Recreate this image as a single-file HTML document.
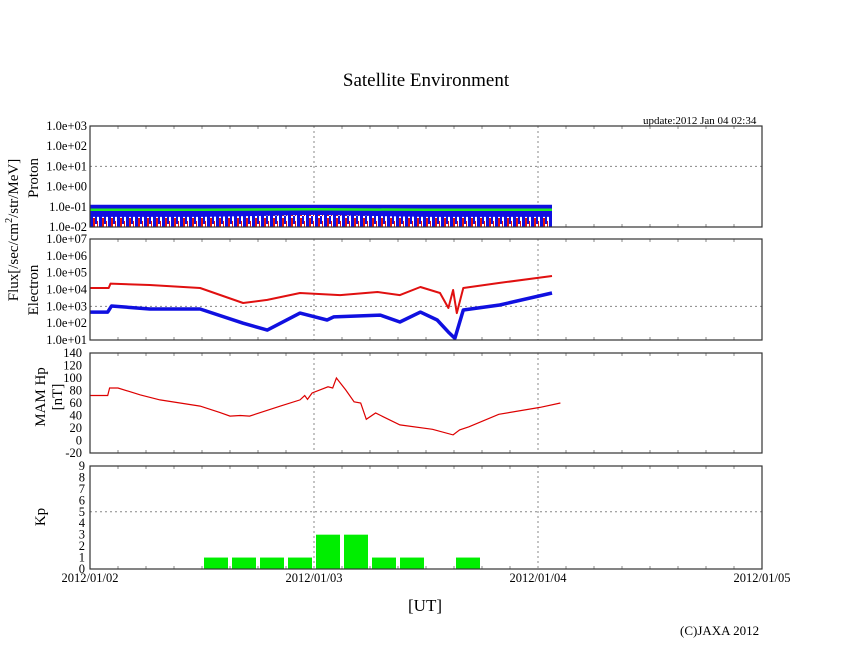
<!DOCTYPE html>
<html><head><meta charset="utf-8"><style>
body{margin:0;background:#fff}
svg{display:block;font-family:"Liberation Serif",serif}
.t{font-size:12.5px;fill:#000}
</style></head><body>
<svg id="c" width="846" height="655">
<text x="426" y="86" text-anchor="middle" font-size="19">Satellite Environment</text>
<text x="643" y="124" font-size="11">update:2012 Jan 04 02:34</text>
<text transform="translate(18,230) rotate(-90)" text-anchor="middle" font-size="15">Flux[/sec/cm<tspan font-size="10" dy="-6">2</tspan><tspan dy="6">/str/MeV]</tspan></text>
<text transform="translate(38,178) rotate(-90)" text-anchor="middle" font-size="15">Proton</text>
<text transform="translate(38,290) rotate(-90)" text-anchor="middle" font-size="15">Electron</text>
<text transform="translate(45,397) rotate(-90)" text-anchor="middle" font-size="15">MAM Hp</text>
<text transform="translate(62,397) rotate(-90)" text-anchor="middle" font-size="15">[nT]</text>
<text transform="translate(45,517) rotate(-90)" text-anchor="middle" font-size="15">Kp</text>
<text x="425" y="611" text-anchor="middle" font-size="17">[UT]</text>
<text x="680" y="635" font-size="13">(C)JAXA 2012</text>
<g id="g"></g>
</svg>
<script>
const xTickLabels=["2012/01/02","2012/01/03","2012/01/04","2012/01/05"];
const protonTicks=["1.0e-02","1.0e-01","1.0e+00","1.0e+01","1.0e+02","1.0e+03"];
const electronTicks=["1.0e+01","1.0e+02","1.0e+03","1.0e+04","1.0e+05","1.0e+06","1.0e+07"];
const hpTicks=[-20,0,20,40,60,80,100,120,140];
const kpTicks=[0,1,2,3,4,5,6,7,8,9];
// electron flux (hours since 2012/01/02 00UT, log10 flux)
const eRedHours=[0,2,2.2,6.4,11.8,16.4,19,22.5,26.8,30.8,33.2,35.4,37.5,38.4,38.9,39.3,40,43.9,49.5];
const eRedLog=[4.09,4.09,4.35,4.27,4.09,3.2,3.38,3.79,3.67,3.85,3.67,4.15,3.79,2.9,3.97,2.6,4.09,4.39,4.8];
const eBlueHours=[0,1.9,2.3,6.4,11.8,16.4,19,22.5,25.4,26.1,31.1,33.2,35.4,37.2,38.4,39.1,40,43.9,49.5];
const eBlueLog=[2.66,2.66,3.02,2.84,2.84,2.0,1.59,2.6,2.19,2.37,2.48,2.07,2.66,2.19,1.47,1.1,2.78,3.08,3.79];
// proton flux
const pHours=[0,12,24,36,49.5];
const pGreenLog=[-1.15,-1.15,-1.12,-1.15,-1.15];
const pBlueTopLog=[-0.9,-0.9,-0.9,-0.9,-0.9];
const pRedTopLog=[-1.5,-1.5,-1.4,-1.5,-1.5];
// MAM Hp
const hpHours=[0,1.9,2.1,3.0,5.4,7.5,11.8,13.9,15.0,16.1,17.1,20.4,22.5,23.0,23.3,23.8,25.5,26.0,26.4,27.4,28.3,29.0,29.6,30.6,33.2,36.7,38.9,39.6,40.6,43.8,48.2,50.4];
const hpVals=[72,72,84,84,73,65,55,45,39,40,39,55,65,72,66,76,86,84,100,81,62,60,34,44,25,18,9,17,22,42,53,60];
// Kp (3-hour bins)
const kpBins=[4,5,6,7,8,9,10,11,13];
const kpVals=[1,1,1,1,3,3,1,1,1];

const X0=90,X1=762,PXH=(X1-X0)/72;
const xs=h=>X0+h*PXH;
const P={p:[126,227,-2,3],e:[239,340,1,7],h:[353,453,-20,140],k:[466,569,0,9]};
const ys=(k,v)=>{const [t,b,lo,hi]=P[k];return b-(v-lo)/(hi-lo)*(b-t);};
const g=document.getElementById('g');const NS="http://www.w3.org/2000/svg";
function el(tag,at,parent){const e=document.createElementNS(NS,tag);for(const k in at)e.setAttribute(k,at[k]);(parent||g).appendChild(e);return e;}
function pts(hs,vs,k){return hs.map((h,i)=>xs(h).toFixed(1)+","+ys(k,vs[i]).toFixed(1)).join(" ");}

for(const k of ['p','e','h','k']){
 const [t,b]=P[k];
 for(const d of [1,2]){const l=el('line',{x1:X0+d*224,x2:X0+d*224,y1:t,y2:b,stroke:'#888','stroke-dasharray':'2,3'});
 
 }
 for(let i=1;i<24;i++){if(i%8==0)continue;const x=X0+i*28;
  el('line',{x1:x,x2:x,y1:t,y2:t+3,stroke:'#888'});el('line',{x1:x,x2:x,y1:b,y2:b-3,stroke:'#888'});}
}
[[ 'p',1],['e',3],['k',5]].forEach(([k,v])=>{const l=el('line',{x1:X0,x2:X1,y1:ys(k,v),y2:ys(k,v),stroke:'#888','stroke-dasharray':'2,3'});

});

protonTicks.forEach((s,i)=>{const e=el('text',{x:87,y:ys('p',i-2)+4,'text-anchor':'end',class:'t'});e.textContent=s;

});
electronTicks.forEach((s,i)=>{const e=el('text',{x:87,y:ys('e',i+1)+4,'text-anchor':'end',class:'t'});e.textContent=s;

});
hpTicks.forEach(v=>{const e=el('text',{x:82,y:ys('h',v)+4,'text-anchor':'end',class:'t'});e.textContent=v;

});
kpTicks.forEach(v=>{const e=el('text',{x:85,y:ys('k',v)+4,'text-anchor':'end',class:'t'});e.textContent=v;

});
xTickLabels.forEach((s,i)=>{const e=el('text',{x:X0+i*224,y:582,'text-anchor':'middle',class:'t'});e.textContent=s;

});

// proton
const defs=el('defs',{});
const pat=el('pattern',{id:'rs',width:9,height:12,patternUnits:'userSpaceOnUse'},defs);
el('rect',{x:0,y:0,width:9,height:12,fill:'#fff'},pat);
el('rect',{x:0,y:0,width:3,height:12,fill:'#1010e0'},pat);
el('rect',{x:3,y:2,width:2,height:10,fill:'#e01010'},pat);
el('rect',{x:5,y:0,width:2,height:8,fill:'#1010e0'},pat);
el('rect',{x:7,y:5,width:1,height:7,fill:'#e01010'},pat);
const bt=pHours.map((h,i)=>xs(h)+","+ys('p',pBlueTopLog[i])).join(" ");
const blue=el('polygon',{points:bt+" "+xs(49.5)+","+ys('p',-2)+" "+X0+","+ys('p',-2),fill:'#1010e0'});


const rt=pHours.map((h,i)=>xs(h)+","+ys('p',pRedTopLog[i])).join(" ");
const red=el('polygon',{points:rt+" "+xs(49.5)+","+ys('p',-2)+" "+X0+","+ys('p',-2),fill:'url(#rs)'});


const gr=el('polyline',{points:pts(pHours,pGreenLog,'p'),fill:'none',stroke:'#2e2',"stroke-width":2.5});



// electron
const er=el('polyline',{points:pts(eRedHours,eRedLog,'e'),fill:'none',stroke:'#e01010',"stroke-width":2,'stroke-linejoin':'round'});


const eb=el('polyline',{points:pts(eBlueHours,eBlueLog,'e'),fill:'none',stroke:'#1010e0',"stroke-width":3.5,'stroke-linejoin':'round'});



// Hp
const hp=el('polyline',{points:pts(hpHours,hpVals,'h'),fill:'none',stroke:'#d00',"stroke-width":1.2});



// Kp bars
kpBins.forEach((bn,i)=>{const y=ys('k',kpVals[i]);const r=el('rect',{x:xs(bn*3)+2,y:y,width:24,height:ys('k',0)-y,fill:'#00ee00'});

});

for(const k of ['p','e','h','k']){const [t,b]=P[k];const f=el('rect',{x:X0,y:t,width:X1-X0,height:b-t,fill:'none',stroke:'#333','stroke-width':1.2});

}
</script>
</body></html>
